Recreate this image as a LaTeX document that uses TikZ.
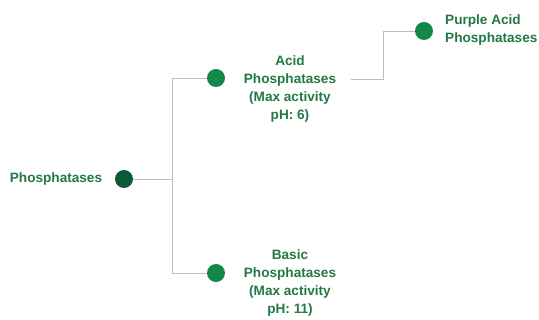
\documentclass[tikz,border=0pt]{standalone}
\usepackage{fontspec}
\setmainfont{Liberation Sans}
\definecolor{dotdark}{HTML}{0B5A35}
\definecolor{dotgreen}{HTML}{14874A}
\definecolor{txtgreen}{HTML}{227846}
\definecolor{linegray}{HTML}{BDBDBD}
\tikzset{
  dot/.style={circle, minimum size=18pt, inner sep=0pt, fill=#1},
  lbl/.style={text=txtgreen, font=\fontsize{13.6}{18}\selectfont\bfseries, inner sep=0pt, align=center},
  branch/.style={draw=linegray, line width=0.9pt}
}
\begin{document}
\begin{tikzpicture}[x=1pt, y=-1pt]
\useasboundingbox (0,0) rectangle (539,320);
\node[dot=dotdark] (Root) at (124,179) {};
\node[lbl] (RootLabel) at (56,179) {Phosphatases}; % the root
\node[dot=dotgreen] (Acid) at (216,78) {};
\node[lbl] (AcidLabel) at (290,89) {Acid\\Phosphatases\\(Max activity\\pH: 6)};
\node[dot=dotgreen] (Basic) at (216,273) {};
\node[lbl] (BasicLabel) at (290,283) {Basic\\Phosphatases\\(Max activity\\pH: 11)};
\node[dot=dotgreen] (Purple) at (424,31) {};
\node[lbl, align=left, anchor=west] (PurpleLabel) at (445,30) {Purple Acid\\Phosphatases};

\coordinate (Split) at (172,179);
\coordinate (Bend) at (383,79);
\draw[branch] (Root) -- (Split);
\draw[branch] (Split) |- (Acid);
\draw[branch] (Split) |- (Basic);
\draw[branch] (AcidLabel.east |- Bend) ++(15,0) -- (Bend) |- (Purple);
\end{tikzpicture}
\end{document}
